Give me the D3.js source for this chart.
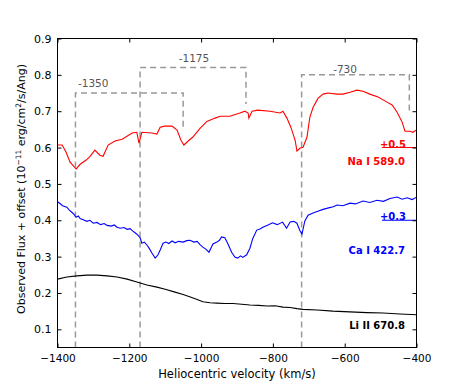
<!DOCTYPE html>
<html><head><meta charset="utf-8">
<script src="https://cdn.jsdelivr.net/npm/d3@7"></script>
<style>
body{margin:0;background:#fff;}
svg{font-family:"DejaVu Sans",sans-serif;}
</style></head>
<body><svg id="c" width="463" height="386"></svg>
<script>
// Na I 589.0 (+0.5 offset)
const naVel = [-1400,-1387,-1376,-1365,-1348,-1337,-1321,-1309,-1296,-1282,-1273,-1259,-1240,-1220,-1192,-1179,-1173,-1165,-1137,-1123,-1114,-1101,-1081,-1067,-1056,-1048,-1036,-1023,-1003,-984,-961,-947,-920,-892,-878,-869,-867,-858,-842,-808,-780,-772,-761,-750,-738,-733,-725,-716,-705,-697,-688,-674,-660,-647,-621,-605,-585,-566,-549,-530,-507,-482,-468,-454,-440,-432,-418,-410,-401];
const naFlux = [0.607,0.607,0.587,0.560,0.541,0.554,0.565,0.576,0.593,0.579,0.576,0.607,0.618,0.623,0.640,0.642,0.612,0.642,0.640,0.637,0.656,0.659,0.659,0.648,0.620,0.607,0.618,0.629,0.653,0.672,0.681,0.686,0.686,0.695,0.700,0.695,0.681,0.700,0.703,0.700,0.695,0.700,0.681,0.656,0.620,0.590,0.598,0.601,0.629,0.684,0.711,0.736,0.747,0.750,0.747,0.747,0.752,0.758,0.755,0.747,0.739,0.725,0.717,0.697,0.670,0.645,0.645,0.642,0.648];
// Ca I 422.7 (+0.3 offset)
const caVel = [-1400,-1393,-1386,-1374,-1367,-1360,-1354,-1348,-1342,-1337,-1330,-1318,-1310,-1300,-1290,-1280,-1270,-1262,-1250,-1242,-1234,-1225,-1215,-1206,-1198,-1190,-1183,-1176,-1170,-1165,-1158,-1151,-1144,-1137,-1128,-1120,-1114,-1106,-1098,-1090,-1081,-1072,-1063,-1050,-1040,-1031,-1020,-1011,-1003,-995,-986,-978,-967,-956,-949,-943,-934,-926,-915,-906,-898,-890,-884,-873,-864,-856,-845,-836,-828,-815,-801,-788,-773,-762,-752,-742,-733,-725,-719,-711,-702,-688,-675,-660,-645,-632,-621,-605,-585,-570,-549,-530,-510,-492,-474,-454,-440,-426,-412,-401];
const caFlux = [0.451,0.446,0.440,0.436,0.428,0.422,0.416,0.408,0.412,0.405,0.402,0.397,0.400,0.392,0.394,0.388,0.391,0.386,0.384,0.387,0.381,0.378,0.380,0.375,0.377,0.370,0.365,0.359,0.352,0.337,0.340,0.332,0.322,0.310,0.296,0.305,0.318,0.337,0.340,0.336,0.343,0.338,0.342,0.340,0.344,0.345,0.340,0.342,0.333,0.326,0.320,0.312,0.335,0.340,0.345,0.354,0.352,0.337,0.312,0.299,0.296,0.302,0.298,0.305,0.323,0.350,0.373,0.376,0.381,0.386,0.393,0.388,0.395,0.378,0.395,0.397,0.392,0.372,0.362,0.398,0.414,0.420,0.425,0.430,0.434,0.437,0.442,0.440,0.447,0.445,0.453,0.449,0.455,0.452,0.460,0.464,0.458,0.462,0.457,0.463];
// Li II 670.8 (no offset)
const liVel = [-1400,-1374,-1346,-1318,-1290,-1262,-1234,-1206,-1179,-1151,-1123,-1100,-1075,-1050,-1030,-1011,-995,-975,-956,-935,-911,-887,-864,-840,-816,-794,-772,-752,-733,-716,-677,-633,-586,-538,-493,-446,-400];
const liFlux = [0.238,0.244,0.247,0.249,0.249,0.247,0.244,0.238,0.230,0.222,0.216,0.210,0.203,0.196,0.189,0.182,0.176,0.173,0.172,0.171,0.171,0.169,0.167,0.166,0.164,0.165,0.161,0.160,0.157,0.155,0.153,0.150,0.148,0.146,0.145,0.142,0.140];

const xTicks = [-1400,-1200,-1000,-800,-600,-400];
const yTicks = [0.1,0.2,0.3,0.4,0.5,0.6,0.7,0.8,0.9];

// Velocity component markers
const compVel = [-1350,-1170,-720];
const compEnd = [-1050,-875,-420];
const compTop = [0.75,0.82,0.80];
const compDrop = [0.65,0.72,0.70];
const compLabel = ["-1350","-1175","-730"];
const compLabelX = [-1343,-1020,-599];
const compLabelY = [0.766,0.835,0.805];

const offsetLevel = [0.6,0.4];
const offsetText = ["+0.5","+0.3"];
const lineNames = ["Na I 589.0","Ca I 422.7","Li II 670.8"];
const lineNameY = [0.551,0.306,0.10];
const colors = ["#ff0000","#0000ff","#000000"];

const svg = d3.select("#c");
const L=57.5, R=416.5, T=38.5, B=347.5;
const x = d3.scaleLinear().domain([-1400,-400]).range([L,R]);
const y = d3.scaleLinear().domain([0.05,0.9]).range([B,T]);

const g = svg.append("g");

const dash = g.append("g").attr("fill","none").attr("stroke","#999").attr("stroke-width",1.5).attr("stroke-dasharray","6,4");
compVel.forEach((v,i)=>{
  dash.append("path").attr("d", d3.line()([[x(v),y(0.05)],[x(v),y(compTop[i])],[x(compEnd[i]),y(compTop[i])],[x(compEnd[i]),y(compDrop[i])]]));
  g.append("text").attr("x",x(compLabelX[i])).attr("y",y(compLabelY[i]))
   .attr("text-anchor", i===0?"start":"middle").attr("font-size",10.5).attr("fill","#555").text(compLabel[i]);
});

const line = d3.line().x(d=>x(d[0])).y(d=>y(d[1]));
const series = [[naVel,naFlux],[caVel,caFlux],[liVel,liFlux]];
series.forEach((s,i)=>{
  g.append("path").datum(d3.zip(s[0],s[1])).attr("fill","none").attr("stroke",colors[i]).attr("stroke-width",1.1).attr("d",line);
});

offsetLevel.forEach((lv,i)=>{
  g.append("line").attr("x1",382).attr("x2",R).attr("y1",y(lv)).attr("y2",y(lv)).attr("stroke",colors[i]).attr("stroke-width",1.1);
  g.append("text").attr("x",406).attr("y",y(lv)).attr("text-anchor","end").attr("font-size",10).attr("font-weight","bold").attr("fill",colors[i]).text(offsetText[i]);
});
lineNames.forEach((n,i)=>{
  g.append("text").attr("x",405).attr("y",y(lineNameY[i])).attr("text-anchor","end").attr("font-size",10).attr("font-weight","bold").attr("fill",colors[i]).text(n);
});

const fmtX = d=>d3.format("d")(d).replace("-","\u2212");
const ax = svg.append("g").attr("transform",`translate(0,${B})`).call(d3.axisBottom(x).tickValues(xTicks).tickSize(-4).tickPadding(7).tickFormat(fmtX));
const axT = svg.append("g").attr("transform",`translate(0,${T})`).call(d3.axisTop(x).tickValues(xTicks).tickSize(-4).tickFormat(""));
const ay = svg.append("g").attr("transform",`translate(${L},0)`).call(d3.axisLeft(y).tickValues(yTicks).tickSize(-4).tickPadding(6).tickFormat(d3.format(".1f")));
const ayR = svg.append("g").attr("transform",`translate(${R},0)`).call(d3.axisRight(y).tickValues(yTicks).tickSize(-4).tickFormat(""));
[ax,axT,ay,ayR].forEach(a=>{a.select(".domain").remove(); a.selectAll("text").attr("font-family","DejaVu Sans").attr("font-size",11).attr("fill","#000"); a.selectAll("line").attr("stroke","#000");});
ax.selectAll("text").attr("font-size",10.5);

svg.append("rect").attr("x",L).attr("y",T).attr("width",R-L).attr("height",B-T).attr("fill","none").attr("stroke","#000").attr("stroke-width",1);

svg.append("text").attr("x",(L+R)/2).attr("y",378).attr("text-anchor","middle").attr("font-size",11.5).text("Heliocentric velocity (km/s)");
const yl = svg.append("text").attr("transform",`translate(25,${(T+B)/2-4}) rotate(-90)`).attr("text-anchor","middle").attr("font-size",11);
yl.append("tspan").text("Observed Flux + offset (10");
yl.append("tspan").attr("font-size",7.5).attr("dy",-4).text("\u221211");
yl.append("tspan").attr("dy",4).text(" erg/cm");
yl.append("tspan").attr("font-size",7.5).attr("dy",-4).text("2");
yl.append("tspan").attr("dy",4).text("/s/Ang)");
</script></body></html>
